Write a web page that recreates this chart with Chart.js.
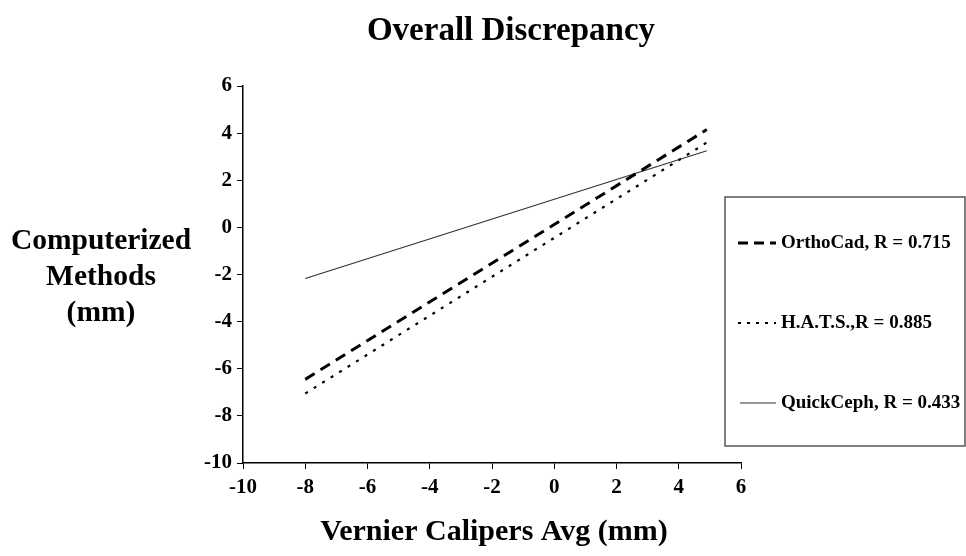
<!DOCTYPE html>
<html>
<head>
<meta charset="utf-8">
<script src="https://cdn.jsdelivr.net/npm/chart.js@4"></script>
<style>
  html, body { margin: 0; padding: 0; background: #fff; }
  #wrap { width: 966px; height: 556px; }
</style>
</head>
<body>
<div id="wrap"><canvas id="discrepancyChart" width="966" height="556"></canvas></div>
<script>
// regression line end points
const xEnds = [-8, 4.9];
const orthoCad = [-6.45, 4.15];
const hats = [-7.05, 3.6];
const quickCeph = [-2.17, 3.25];
const seriesNames = ['OrthoCad, R = 0.715', 'H.A.T.S.,R = 0.885', 'QuickCeph, R = 0.433'];
const xTicks = [-10, -8, -6, -4, -2, 0, 2, 4, 6];
const yTicks = [-10, -8, -6, -4, -2, 0, 2, 4, 6];

const serif = '"Liberation Serif", "Times New Roman", serif';

function toPoints(ys) {
    return xEnds.map((x, i) => ({ x: x, y: ys[i] }));
}

// titles: main one centred on the page, y title horizontal on the left
const titles = {
    id: 'titles',
    afterDraw(chart) {
        const ctx = chart.ctx;
        const a = chart.chartArea;
        ctx.save();
        ctx.fillStyle = '#000';
        ctx.textAlign = 'center';
        ctx.textBaseline = 'middle';
        ctx.font = 'bold 33px ' + serif;
        ctx.fillText('Overall Discrepancy', 511, 31);
        ctx.font = 'bold 29.5px ' + serif;
        ['Computerized', 'Methods', '(mm)'].forEach((t, i) => {
            ctx.fillText(t, 101, 241 + i * 36);
        });
        ctx.font = 'bold 30px ' + serif;
        ctx.fillText('Vernier Calipers Avg (mm)', (a.left + a.right) / 2 + 2, 532);
        ctx.restore();
    }
};

// boxed legend that sits over the right edge of the plot
const boxLegend = {
    id: 'boxLegend',
    afterDatasetsDraw(chart) {
        const ctx = chart.ctx;
        const left = 725, top = 197, right = 965, bottom = 446;
        ctx.save();
        ctx.fillStyle = '#fff';
        ctx.fillRect(left, top, right - left, bottom - top);
        ctx.strokeStyle = '#555';
        ctx.lineWidth = 1.5;
        ctx.strokeRect(left, top, right - left, bottom - top);

        const rows = [243, 323, 403];
        chart.data.datasets.forEach((ds, i) => {
            const y = rows[i];
            ctx.strokeStyle = ds.borderColor;
            ctx.lineWidth = ds.borderWidth;
            ctx.setLineDash(ds.legendDash || []);
            ctx.beginPath();
            ctx.moveTo(ds.legendStart, y);
            ctx.lineTo(776, y);
            ctx.stroke();
            ctx.setLineDash([]);
            ctx.fillStyle = '#000';
            ctx.font = 'bold 19px ' + serif;
            ctx.textAlign = 'left';
            ctx.textBaseline = 'middle';
            ctx.fillText(ds.label, 781, y);
        });
        ctx.restore();
    }
};

const tickFont = { family: serif, size: 21, weight: 'bold' };

new Chart(document.getElementById('discrepancyChart'), {
    type: 'scatter',
    data: {
        datasets: [{
            label: seriesNames[0],
            data: toPoints(orthoCad),
            showLine: true,
            borderColor: '#000',
            borderWidth: 3,
            borderDash: [11, 7],
            legendDash: [10, 6],
            legendStart: 738,
            pointRadius: 0
        }, {
            label: seriesNames[1],
            data: toPoints(hats),
            showLine: true,
            borderColor: '#000',
            borderWidth: 2.2,
            borderDash: [3, 7],
            legendDash: [3, 6],
            legendStart: 738,
            pointRadius: 0
        }, {
            label: seriesNames[2],
            data: toPoints(quickCeph),
            showLine: true,
            borderColor: '#333',
            borderWidth: 1.2,
            legendStart: 740,
            pointRadius: 0
        }]
    },
    options: {
        responsive: false,
        animation: false,
        layout: { padding: { left: 0, right: 225, top: 86, bottom: 0 } },
        plugins: {
            legend: { display: false },
            tooltip: { enabled: false },
            title: { display: false }
        },
        scales: {
            x: {
                type: 'linear',
                min: -10,
                max: 6,
                afterBuildTicks(scale) {
                    scale.ticks = xTicks.map(v => ({ value: v }));
                },
                afterFit(scale) { scale.height = 93; },
                grid: { drawOnChartArea: false, color: '#000', tickLength: 6 },
                border: { color: '#000', width: 1.5 },
                ticks: { color: '#000', font: tickFont, padding: 6, maxRotation: 0 }
            },
            y: {
                type: 'linear',
                min: -10,
                max: 6,
                afterBuildTicks(scale) {
                    scale.ticks = yTicks.map(v => ({ value: v }));
                },
                afterFit(scale) { scale.width = 243; },
                grid: { drawOnChartArea: false, color: '#000', tickLength: 6 },
                border: { color: '#000', width: 1.5 },
                ticks: { color: '#000', font: tickFont, padding: 5 }
            }
        }
    },
    plugins: [titles, boxLegend]
});
</script>
</body>
</html>
